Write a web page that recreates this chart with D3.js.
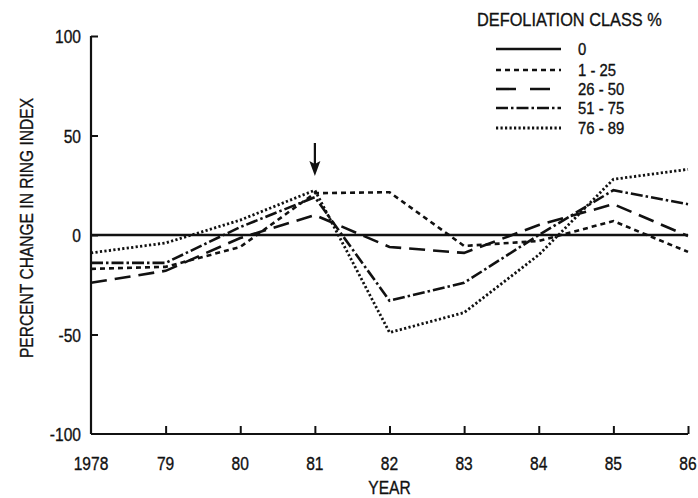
<!DOCTYPE html>
<html>
<head>
<meta charset="utf-8">
<script src="https://cdn.jsdelivr.net/npm/d3@7"></script>
<style>
  html, body { margin: 0; padding: 0; background: #fff; }
  svg { display: block; }
  text { font-family: "Liberation Sans", Arial, sans-serif; fill: #111; stroke: #111; stroke-width: 0.35px; }
</style>
</head>
<body>
<svg id="chart" width="698" height="498"></svg>
<script>
// ---- data ----
const years = [1978, 1979, 1980, 1981, 1982, 1983, 1984, 1985, 1986];
const xTickLabels = ["1978", "79", "80", "81", "82", "83", "84", "85", "86"];
const yTicks = [-100, -50, 0, 50, 100];
const seriesNames = ["0", "1 - 25", "26 - 50", "51 - 75", "76 - 89"];
const class0    = [0, 0, 0, 0, 0, 0, 0, 0, 0];
const class1_25 = [-17, -16, -6, 21, 21.5, -5.5, -3, 7, -8.5];
const class26_50 = [-24, -18, -1.5, 10, -6, -9, 5, 15.5, -0.5];
const class51_75 = [-14, -14, 4, 19, -33, -24, 0, 22.5, 15.5];
const class76_89 = [-9, -4, 7.5, 22.5, -49, -39, -10, 28, 33];
const seriesValues = [class0, class1_25, class26_50, class51_75, class76_89];
const arrowYear = 1981;
const legendTitle = "DEFOLIATION CLASS %";
const xTitle = "YEAR";
const yTitle = "PERCENT CHANGE IN RING INDEX";

// ---- styles ----
const dashes = [null, "5,4", "16,8", "12,3,2.5,3", "2.2,2.3"];
const widths = [2.6, 2.6, 2.6, 2.6, 2.8];
const SQ = 0.82; // horizontal condensing of the type

const svg = d3.select("#chart");
const x = d3.scaleLinear().domain([1978, 1986]).range([91, 688]);
const y = d3.scaleLinear().domain([-100, 100]).range([434, 36]);

function label(px, py, str, anchor, rot, fs, sq) {
  return svg.append("text")
    .attr("transform", `translate(${px},${py})` + (rot ? ` rotate(${rot})` : "") + ` scale(${sq || SQ},1)`)
    .attr("text-anchor", anchor || "start")
    .style("font-size", (fs || 19) + "px")
    .text(str);
}

// axes
const gx = svg.append("g").attr("transform", `translate(0,${y(-100)})`)
  .call(d3.axisBottom(x).tickValues(years).tickSize(-8).tickFormat(() => ""));
const gy = svg.append("g").attr("transform", `translate(${x(1978)},0)`)
  .call(d3.axisLeft(y).tickValues(yTicks).tickSize(-7).tickFormat(() => ""));
[gx, gy].forEach(g => {
  g.select(".domain").attr("stroke", "#111").attr("stroke-width", 2.2);
  g.selectAll(".tick line").attr("stroke", "#111").attr("stroke-width", 2);
});
gx.selectAll(".tick").filter(d => d === 1978).select("line").remove();
gy.selectAll(".tick").filter(d => d === -100).select("line").remove();
gx.select(".domain").attr("d", `M${x(1978)},0H${x(1986)}`);
gy.select(".domain").attr("d", `M0,${y(-100)}V${y(100)}`);

years.forEach((yr, i) => label(x(yr), 470, xTickLabels[i], "middle"));
yTicks.forEach(v => label(x(1978) - 10, y(v) + 7, String(v), "end"));

// lines
const line = d3.line().x((d, i) => x(years[i])).y(d => y(d));
seriesValues.forEach((vals, k) => {
  svg.append("path").datum(vals)
    .attr("d", line)
    .attr("fill", "none")
    .attr("stroke", "#111")
    .attr("stroke-width", widths[k])
    .attr("stroke-dasharray", dashes[k])
    .attr("stroke-linecap", "butt");
});

// arrow
const ax = x(arrowYear);
svg.append("line").attr("x1", ax).attr("x2", ax).attr("y1", 143).attr("y2", 166)
  .attr("stroke", "#111").attr("stroke-width", 2.2);
svg.append("path").attr("d", `M${ax - 5.5},${161}L${ax},${176}L${ax + 5.5},${161}L${ax},${164}Z`)
  .attr("fill", "#111");

// legend
label(477, 26, legendTitle, "start", null, 19, 0.86);
const legY = [49, 70, 89, 108, 128];
seriesNames.forEach((name, k) => {
  svg.append("line").attr("x1", 496).attr("x2", 561).attr("y1", legY[k]).attr("y2", legY[k])
    .attr("stroke", "#111").attr("stroke-width", widths[k])
    .attr("stroke-dasharray", k === 2 ? "20,14" : dashes[k]);
  label(578, legY[k] + 6, name, "start", null, 16.5, 0.9);
});

// axis titles
label(x(1982), 494, xTitle, "middle");
label(33, 228, yTitle, "middle", -90);
</script>
</body>
</html>
